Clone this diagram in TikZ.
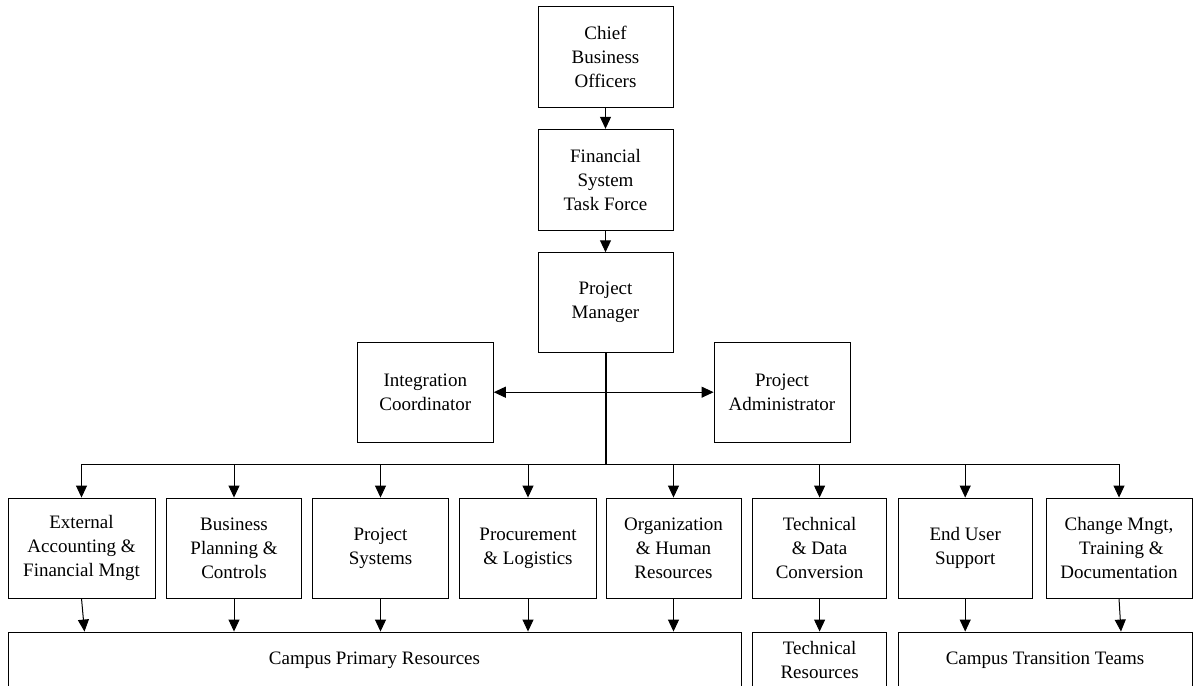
\documentclass[tikz,border=0pt]{standalone}
\usepackage{fontspec}
\setmainfont{Liberation Serif}
\usetikzlibrary{arrows.meta}
\begin{document}
\begin{tikzpicture}[x=1pt,y=-1pt,
  box/.style={draw, line width=0.9pt, inner sep=0pt, align=center,
    font=\fontsize{19}{24}\selectfont},
  arr/.style={line width=1pt, -{Triangle[length=12pt,width=11pt]}},
  stem/.style={line width=1.7pt}]
\useasboundingbox (0,0) rectangle (1193,685);
\clip (0,0) rectangle (1193,685);
% top chain
\node[box, minimum width=135pt, minimum height=100.6pt] (cbo) at (605.5,57) {Chief\\Business\\Officers};
\node[box, minimum width=135pt, minimum height=100.7pt] (fst) at (605.5,179.6) {Financial\\System\\Task Force};
\node[box, minimum width=135pt, minimum height=100pt] (pm) at (605.5,302.7) {Project\\Manager};
\node[box, minimum width=136pt, minimum height=100.3pt] (ic) at (425.3,392.2) {Integration\\Coordinator};
\node[box, minimum width=136pt, minimum height=100.3pt] (pa) at (782,392.2) {Project\\Administrator};
% row of teams
\node[box, minimum width=147pt, minimum height=100pt] (b1) at (81.5,548) {External\\Accounting \&\\Financial Mngt};
\node[box, minimum width=135pt, minimum height=100pt] (b2) at (234,548) {Business\\Planning \&\\Controls};
\node[box, minimum width=135.5pt, minimum height=100pt] (b3) at (380.5,548) {Project\\Systems};
\node[box, minimum width=136.5pt, minimum height=100pt] (b4) at (528,548) {Procurement\\\& Logistics};
\node[box, minimum width=135pt, minimum height=100pt] (b5) at (673.5,548) {Organization\\\& Human\\Resources};
\node[box, minimum width=134pt, minimum height=100pt] (b6) at (819.6,548) {Technical\\\& Data\\Conversion};
\node[box, minimum width=134.4pt, minimum height=100pt] (b7) at (965.2,548) {End User\\Support};
\node[box, minimum width=146pt, minimum height=100pt] (b8) at (1119,548) {Change Mngt,\\\ Training \&\\Documentation};
% bottom resource boxes (cut by the page edge)
\node[box, minimum width=733pt, minimum height=56pt] (cpr) at (374.5,660) {Campus Primary Resources};
\node[box, minimum width=134pt, minimum height=56pt] (tr) at (819.6,660) {Technical\\Resources};
\node[box, minimum width=294pt, minimum height=56pt] (ctt) at (1045,660) {Campus Transition Teams};
% connectors
\draw[arr] (cbo) -- (fst);
\draw[arr] (fst) -- (pm);
\coordinate (bus) at (606,464);
\draw[stem] (pm.south -| bus) -- (bus);
\draw[arr] (bus |- ic.east) -- (ic.east);
\draw[arr] (bus |- pa.west) -- (pa.west);
\foreach \b in {b1,b2,b3,b4,b5,b6,b7,b8}{
  \draw[arr] (bus) -| (\b.north);
}
\draw[arr] (b1.south) -- ([xshift=3pt]b1.south |- cpr.north);
\draw[arr] (b2.south) -- (b2.south |- cpr.north);
\draw[arr] (b3.south) -- (b3.south |- cpr.north);
\draw[arr] (b4.south) -- (b4.south |- cpr.north);
\draw[arr] (b5.south) -- (b5.south |- cpr.north);
\draw[arr] (b6.south) -- (tr.north);
\draw[arr] (b7.south) -- (b7.south |- ctt.north);
\draw[arr] (b8.south) -- ([xshift=2pt]b8.south |- ctt.north);
\end{tikzpicture}
\end{document}
